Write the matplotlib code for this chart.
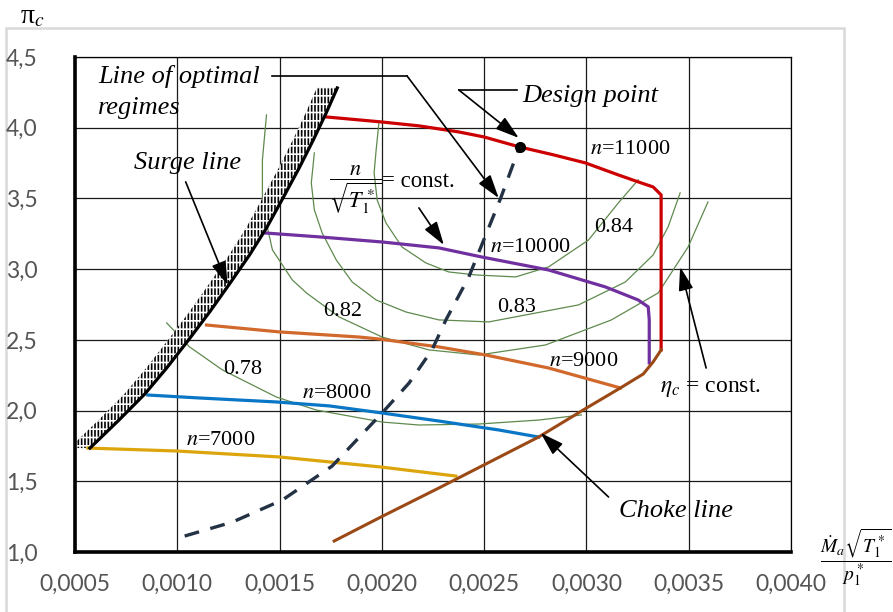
import matplotlib
matplotlib.use("Agg")
import matplotlib.pyplot as plt
from matplotlib.patches import Rectangle
from matplotlib.ticker import FuncFormatter
import numpy as np

plt.rcParams['mathtext.fontset'] = 'stix'
plt.rcParams['hatch.linewidth'] = 1.2

# surge line
surge_x = [0.000573, 0.00071, 0.000841, 0.000948, 0.001051, 0.001158, 0.001255, 0.001353,
           0.001436, 0.001514, 0.001596, 0.001665, 0.001728, 0.001782]
surge_y = [1.735, 1.926, 2.117, 2.301, 2.492, 2.697, 2.895, 3.100,
           3.291, 3.496, 3.716, 3.914, 4.105, 4.281]

# speed lines
n11000_x = [0.001728, 0.001996, 0.002181, 0.002376, 0.002498, 0.002673, 0.002839, 0.002995,
            0.003156, 0.003253, 0.003326, 0.003365, 0.003365]
n11000_y = [4.076, 4.041, 4.013, 3.970, 3.935, 3.864, 3.808, 3.751,
            3.666, 3.617, 3.581, 3.525, 2.429]
n10000_x = [0.001426, 0.001694, 0.002001, 0.002279, 0.002488, 0.002815, 0.003093, 0.003253, 0.003302, 0.003307, 0.003307]
n10000_y = [3.256, 3.228, 3.192, 3.150, 3.086, 2.994, 2.874, 2.782, 2.733, 2.641, 2.337]
n9000_x = [0.001143, 0.0015, 0.001889, 0.001986, 0.002279, 0.002508, 0.002815, 0.003166]
n9000_y = [2.605, 2.556, 2.520, 2.506, 2.450, 2.393, 2.301, 2.160]
n8000_x = [0.000856, 0.001109, 0.001484, 0.001743, 0.002001, 0.002279, 0.002571, 0.002766]
n8000_y = [2.110, 2.089, 2.061, 2.033, 1.983, 1.926, 1.863, 1.813]
n7000_x = [0.000563, 0.001, 0.0015, 0.001996, 0.002362]
n7000_y = [1.735, 1.714, 1.672, 1.601, 1.537]

# choke line
choke_x = [0.001767, 0.001996, 0.002279, 0.002498, 0.002766, 0.0030, 0.003166, 0.003278, 0.003326, 0.003365]
choke_y = [1.078, 1.248, 1.453, 1.615, 1.813, 2.018, 2.160, 2.259, 2.344, 2.429]

# line of optimal regimes
opt_x = [0.001036, 0.00127, 0.001514, 0.001757, 0.002001, 0.002133, 0.002245, 0.002313, 0.002425, 0.002581, 0.002673]
opt_y = [1.113, 1.212, 1.368, 1.608, 1.983, 2.195, 2.429, 2.641, 2.945, 3.503, 3.864]
design_x, design_y = 0.002673, 3.864

# efficiency contours
eff078_x = [0.000948, 0.00106, 0.001221, 0.001484, 0.001679, 0.002001, 0.002181, 0.002474, 0.002766, 0.002975]
eff078_y = [2.62, 2.45, 2.287, 2.096, 2.004, 1.919, 1.898, 1.905, 1.933, 1.969]
eff082_x = [0.001436, 0.001416, 0.001416, 0.00144, 0.001465, 0.001562, 0.001631, 0.001791, 0.002001,
            0.00223, 0.002474, 0.0028, 0.003122, 0.003351, 0.003497, 0.003594]
eff082_y = [4.09, 3.772, 3.489, 3.298, 3.136, 2.924, 2.832, 2.662, 2.52,
            2.429, 2.393, 2.464, 2.641, 2.832, 3.157, 3.475]
eff083_x = [0.00167, 0.001655, 0.00167, 0.001708, 0.001777, 0.001855, 0.001972, 0.002118, 0.002279,
            0.002523, 0.002961, 0.00319, 0.003326, 0.003399, 0.003458]
eff083_y = [3.822, 3.61, 3.419, 3.256, 3.065, 2.909, 2.782, 2.697, 2.641,
            2.627, 2.747, 2.909, 3.100, 3.298, 3.539]
eff084_x = [0.001986, 0.001972, 0.001962, 0.001977, 0.00202, 0.002098, 0.002215, 0.002327, 0.002459,
            0.002654, 0.002815, 0.00301, 0.003156, 0.003253]
eff084_y = [4.041, 3.843, 3.68, 3.489, 3.327, 3.157, 3.044, 2.98, 2.959,
            2.945, 3.016, 3.206, 3.468, 3.631]

x_ticks = [0.0005, 0.0010, 0.0015, 0.0020, 0.0025, 0.0030, 0.0035, 0.0040]
y_ticks = [1.0, 1.5, 2.0, 2.5, 3.0, 3.5, 4.0, 4.5]

fig = plt.figure(figsize=(8.93, 6.12), dpi=100)
ax = fig.add_axes([0.084, 0.098, 0.8018, 0.8089])

# grid
ax.set_xlim(0.0005, 0.0040)
ax.set_ylim(1.0, 4.5)
ax.set_xticks(x_ticks)
ax.set_yticks(y_ticks)
ax.grid(True, color='#1a1a1a', lw=0.9)
ax.set_axisbelow(True)
ax.tick_params(length=0, labelsize=16.5, labelcolor='#555555')
ax.tick_params(axis='y', pad=27)
ax.tick_params(axis='x', pad=16)
for lab in ax.get_xticklabels() + ax.get_yticklabels():
    lab.set_fontfamily('Lato')
ax.xaxis.set_major_formatter(FuncFormatter(lambda v, p: f'{v:.4f}'.replace('.', ',')))
ax.yaxis.set_major_formatter(FuncFormatter(lambda v, p: f'{v:.1f}'.replace('.', ',')))
ax.spines['left'].set_linewidth(2.6)
ax.spines['bottom'].set_linewidth(2.6)
ax.spines['top'].set_linewidth(0.9)
ax.spines['right'].set_linewidth(0.9)
ax.spines['bottom'].set_zorder(6)
ax.spines['left'].set_zorder(6)

# efficiency contours
green = '#5f8a4e'
for ex, ey in [(eff078_x, eff078_y), (eff082_x, eff082_y), (eff083_x, eff083_y), (eff084_x, eff084_y)]:
    ax.plot(ex, ey, color=green, lw=0.9, zorder=2)

# surge band
sx = np.array(surge_x)
ax.fill_betweenx(surge_y, sx - 0.0001, sx, facecolor='white', edgecolor='black', hatch='|||||', lw=0, zorder=3)
ax.fill_betweenx(surge_y, sx - 0.0001, sx, facecolor='none', edgecolor='white', hatch='--', lw=0, zorder=3)
ax.plot(surge_x, surge_y, color='black', lw=2.3, zorder=5)

# speed lines
ax.plot(n11000_x, n11000_y, color='#cc0000', lw=2.3, zorder=4, solid_joinstyle='round')
ax.plot(n10000_x, n10000_y, color='#7030a0', lw=2.3, zorder=4, solid_joinstyle='round')
ax.plot(n9000_x, n9000_y, color='#d2692c', lw=2.3, zorder=4)
ax.plot(n8000_x, n8000_y, color='#0a76c6', lw=2.3, zorder=4)
ax.plot(n7000_x, n7000_y, color='#dda50c', lw=2.3, zorder=4)
ax.plot(choke_x, choke_y, color='#9b4a16', lw=2.2, zorder=4)
ax.plot(opt_x, opt_y, color='#243245', lw=2.4, ls=(0, (4.5, 3.5)), zorder=4)
ax.plot([design_x], [design_y], 'o', color='black', ms=7, zorder=7)

# text labels
serif = 'Liberation Serif'
num_kw = dict(fontfamily=serif, fontsize=16, ha='center', va='center', zorder=8)
ax.text(0.001319, 2.287, '0.78', **num_kw)
ax.text(0.001806, 2.704, '0.82', **num_kw)
ax.text(0.002659, 2.726, '0.83', **num_kw)
ax.text(0.003131, 3.291, '0.84', **num_kw)
ax.text(0.003214, 3.843, r'$n$=11000', **num_kw)
ax.text(0.002727, 3.150, r'$n$=10000', **num_kw)
ax.text(0.002985, 2.344, r'$n$=9000', **num_kw)
ax.text(0.001777, 2.124, r'$n$=8000', **num_kw)
ax.text(0.001211, 1.792, r'$n$=7000', **num_kw)

it_kw = dict(fontfamily=serif, fontsize=19, style='italic', va='center', zorder=8)
ax.text(0.000612, 4.359, 'Line of optimal', ha='left', **it_kw)
ax.text(0.000612, 4.140, 'regimes', ha='left', **it_kw)
ax.text(0.001051, 3.751, 'Surge line', ha='center', **it_kw)
ax.text(0.003019, 4.225, 'Design point', ha='center', **it_kw)
ax.text(0.003438, 1.290, 'Choke line', ha='center', **it_kw)

ax.text(0.001870, 3.567, r'$\dfrac{n}{\sqrt{T_1^*}}$', fontsize=16, ha='center', va='center', zorder=8)
ax.text(0.002001, 3.617, '= const.', fontfamily=serif, fontsize=16.5, ha='left', va='center', zorder=8)
ax.text(0.003604, 2.160, r'$\eta_c$ = const.', fontfamily=serif, fontsize=17, ha='center', va='center', zorder=8)

# leaders and arrows
aprops = dict(arrowstyle='-|>,head_length=0.8,head_width=0.25', color='black', lw=1.2,
              mutation_scale=18, shrinkA=0, shrinkB=0)
ax.plot([0.001465, 0.002123], [4.366, 4.366], color='black', lw=1.2, zorder=8)
ax.annotate('', xy=(0.002571, 3.503), xytext=(0.002123, 4.366), arrowprops=aprops, zorder=8)
ax.plot([0.002659, 0.002376], [4.267, 4.267], color='black', lw=1.2, zorder=8)
ax.annotate('', xy=(0.002669, 3.928), xytext=(0.002376, 4.267), arrowprops=aprops, zorder=8)
ax.annotate('', xy=(0.001246, 2.888), xytext=(0.001041, 3.617), arrowprops=aprops, zorder=8)
ax.annotate('', xy=(0.002303, 3.171), xytext=(0.002181, 3.433), arrowprops=aprops, zorder=8)
ax.annotate('', xy=(0.003458, 3.016), xytext=(0.003585, 2.301), arrowprops=aprops, zorder=8)
ax.annotate('', xy=(0.002776, 1.842), xytext=(0.003108, 1.389), arrowprops=aprops, zorder=8)

# axis titles
fig.text(0.036, 0.972, 'π$_c$', fontfamily=serif, fontsize=20, ha='center', va='center')
fig.text(0.918, 0.09, r'$\dfrac{\dot{M}_a\sqrt{T_1^*}}{p_1^*}$', fontsize=14, ha='left', va='center')

# outer frame
fig.add_artist(Rectangle((0.0067, -0.1), 0.9384, 1.0542, transform=fig.transFigure,
                         fill=False, edgecolor='#d9d9d9', lw=1.8, zorder=0))

fig.savefig('out.png', dpi=100)
